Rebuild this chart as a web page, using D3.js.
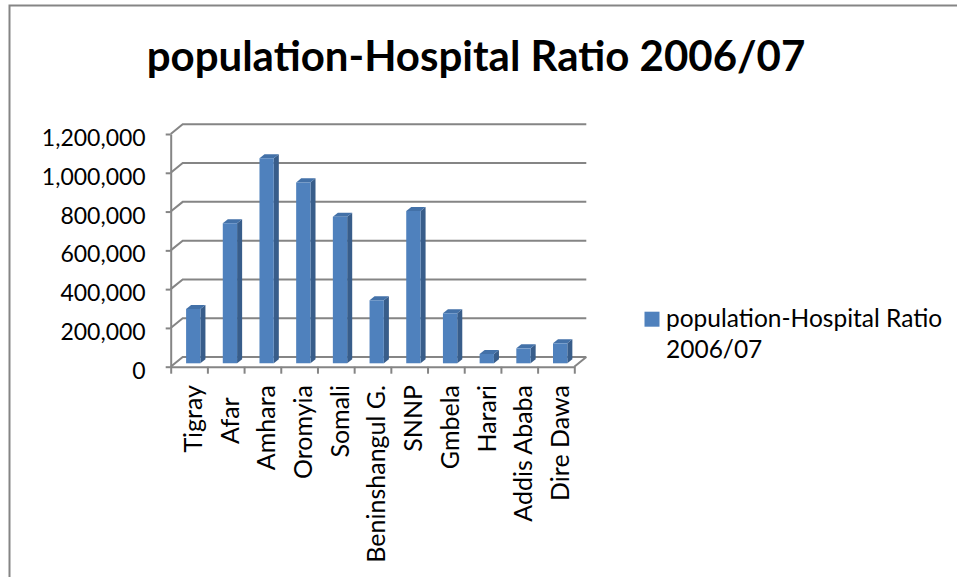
<!DOCTYPE html>
<html>
<head>
<meta charset="utf-8">
<script src="https://cdn.jsdelivr.net/npm/d3@7"></script>
<style>
  body { margin: 0; background: #fff; }
  svg text { font-family: Lato, "Open Sans", sans-serif; fill: #000; }
  .cat { white-space: pre; }
</style>
</head>
<body>
<svg width="957" height="577"></svg>
<script>
var title = 'population-Hospital Ratio 2006/07';
var categories = ['Tigray', 'Afar  ', 'Amhara', 'Oromyia', 'Somali', 'Beninshangul G.', 'SNNP', 'Gmbela', 'Harari', 'Addis Ababa', 'Dire Dawa'];
var ratios = [280000, 722000, 1057000, 933000, 756000, 325000, 785000, 258000, 48000, 77000, 103000];
var yTicks = [0, 200000, 400000, 600000, 800000, 1000000, 1200000];
var legendLines = ['population-Hospital Ratio', '2006/07'];

var svg = d3.select('svg');
var grey = '#858585';

// chart frame (runs off the right and bottom of the shot)
svg.append('rect')
	.attr('x', 9.5).attr('y', 5.5)
	.attr('width', 1000).attr('height', 600)
	.attr('fill', 'none').attr('stroke', grey).attr('stroke-width', 2);

svg.append('text')
	.attr('x', 476).attr('y', 71)
	.attr('text-anchor', 'middle')
	.attr('font-size', 42).attr('font-weight', 'bold')
	.text(title);

// 3d box: front plane scales plus a depth vector
var x0 = 170.7, x1 = 574.3;
var depth = {dx: 12, dy: -9.7};
var barFront = 0.35, barBack = 0.77;

var x = d3.scaleBand().domain(categories).range([x0, x1]);
var xTicks = d3.scaleLinear().domain([0, categories.length]).range([x0, x1]);
var y = d3.scaleLinear().domain([0, 1200000]).range([366.7, 134]);

function proj(px, py, f){ return [px + f * depth.dx, py + f * depth.dy]; }
var line = d3.line();

var walls = svg.append('g').attr('class', 'walls')
	.attr('fill', 'none').attr('stroke', grey).attr('stroke-width', 2);

// back wall grid + side wall grid
walls.selectAll('path.grid').data(yTicks).enter()
	.append('path').attr('class', 'grid')
	.attr('d', function(t){
		return line([proj(x0, y(t), 0), proj(x0, y(t), 1), proj(x1, y(t), 1)]);
	});
// floor right edge
walls.append('path')
	.attr('d', line([proj(x1, y(0), 0), proj(x1, y(0), 1)]));

// y axis on the front plane
var yAxis = svg.append('g')
	.attr('transform', 'translate(' + x0 + ',0)')
	.call(d3.axisLeft(y).tickValues(yTicks).tickFormat(d3.format(','))
		.tickSize(5).tickSizeOuter(0).tickPadding(20));
yAxis.selectAll('path, line').attr('stroke', grey).attr('stroke-width', 2);
yAxis.selectAll('text').attr('font-size', 23).attr('dy', '0.5em')
	.style('font-family', 'Lato, sans-serif');

// x axis: floor front edge with ticks between categories
var xAxis = svg.append('g')
	.attr('transform', 'translate(0,' + y(0) + ')')
	.call(d3.axisBottom(xTicks).tickValues(d3.range(categories.length + 1))
		.tickFormat('').tickSize(7).tickSizeOuter(0));
xAxis.selectAll('path, line').attr('stroke', grey).attr('stroke-width', 2);

// bars
var bw = x.bandwidth() * 0.39;
function cx(d, i){ return x(categories[i]) + x.bandwidth() / 2; }

var bars = svg.selectAll('g.bar').data(ratios).enter()
	.append('g').attr('class', 'bar');

bars.append('path') // side
	.attr('fill', '#385d8a')
	.attr('d', function(d, i){
		var r = cx(d, i) + bw / 2;
		return line([proj(r, y(d), barFront), proj(r, y(d), barBack), proj(r, y(0), barBack), proj(r, y(0), barFront)]) + 'Z';
	});
bars.append('path') // top
	.attr('fill', '#4371a8')
	.attr('d', function(d, i){
		var l = cx(d, i) - bw / 2, r = cx(d, i) + bw / 2;
		return line([proj(l, y(d), barFront), proj(l, y(d), barBack), proj(r, y(d), barBack), proj(r, y(d), barFront)]) + 'Z';
	});
bars.append('path') // front
	.attr('fill', '#4f81bd')
	.attr('d', function(d, i){
		var l = cx(d, i) - bw / 2, r = cx(d, i) + bw / 2;
		return line([proj(l, y(d), barFront), proj(r, y(d), barFront), proj(r, y(0), barFront), proj(l, y(0), barFront)]) + 'Z';
	});

// category labels, rotated
svg.selectAll('text.cat').data(categories).enter()
	.append('text').attr('class', 'cat')
	.attr('transform', function(d, i){
		var p = proj(cx(null, i), 385, barFront);
		return 'translate(' + p[0] + ',385) rotate(-90)';
	})
	.attr('text-anchor', 'end')
	.attr('dy', '0.35em')
	.attr('font-size', 25)
	.text(function(d){ return d; });

// legend
var legend = svg.append('g').attr('transform', 'translate(644.5,311.7)');
legend.append('rect').attr('width', 15).attr('height', 15).attr('fill', '#4f81bd');
legend.append('text')
	.attr('font-size', 24.5)
	.selectAll('tspan').data(legendLines).enter()
	.append('tspan')
	.attr('x', 21.5)
	.attr('y', function(d, i){ return 15 + i * 31.6; })
	.text(function(d){ return d; });
</script>
</body>
</html>
